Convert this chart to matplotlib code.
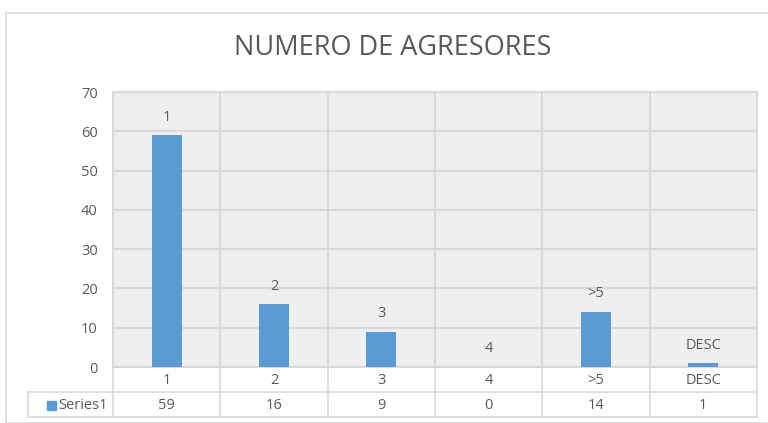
import matplotlib.pyplot as plt
from matplotlib.patches import Rectangle
from matplotlib.lines import Line2D

plt.rcParams['font.family'] = ['Open Sans', 'DejaVu Sans']

categorias = ['1', '2', '3', '4', '>5', 'DESC']
valores = [59, 16, 9, 0, 14, 1]
serie = 'Series1'
titulo = 'NUMERO DE AGRESORES'

azul = '#5b9bd5'
cinza = '#d9d9d9'
texto = '#595959'

W, H = 768, 423
fig = plt.figure(figsize=(W / 100, H / 100), dpi=100)

def fx(px):
    return px / W

def fy(py):
    return 1 - py / H

# moldura do grafico
fig.patches.append(Rectangle((fx(6), fy(423)), fx(780), fy(13) - fy(423),
                             transform=fig.transFigure, fill=False,
                             edgecolor=cinza, linewidth=1.2))

x0, x1, ytop, ybot = 113, 757, 92, 367
ax = fig.add_axes([fx(x0), fy(ybot), fx(x1 - x0), fy(ytop) - fy(ybot)])
ax.set_facecolor('#efefef')
pos = range(len(categorias))
ax.bar(pos, valores, width=0.28, color=azul, zorder=3)
ax.set_xlim(-0.5, len(categorias) - 0.5)
ax.set_ylim(0, 70)
ax.set_yticks(range(0, 71, 10))
ax.set_xticks([i + 0.5 for i in range(len(categorias) - 1)], minor=True)
ax.set_xticks([])
ax.grid(True, axis='y', color=cinza, linewidth=1.5, zorder=1)
ax.grid(True, axis='x', which='minor', color=cinza, linewidth=1.5, zorder=1)
ax.tick_params(axis='y', length=0, labelsize=10.5, labelcolor=texto, pad=11)
ax.tick_params(axis='x', which='both', length=0)
for s in ax.spines.values():
    s.set_color(cinza)
    s.set_linewidth(1.5)

for i, (c, v) in enumerate(zip(categorias, valores)):
    ax.annotate(c, (i, v), xytext=(0, 13), textcoords='offset points',
                ha='center', va='center', fontsize=10.5, color=texto)

fig.text(fx(393), fy(48), titulo, ha='center', va='center', fontsize=19.5, color=texto)

# tabela de dados
larg = (x1 - x0) / len(categorias)
fig.lines.append(Line2D([fx(x0), fx(x1)], [fy(392), fy(392)], color=cinza,
                        linewidth=1.2, transform=fig.transFigure))
fig.lines.append(Line2D([fx(28), fx(x0)], [fy(392), fy(392)], color=cinza,
                        linewidth=1.2, transform=fig.transFigure))
fig.lines.append(Line2D([fx(28), fx(x1)], [fy(417), fy(417)], color=cinza,
                        linewidth=1.2, transform=fig.transFigure))
fig.lines.append(Line2D([fx(28), fx(28)], [fy(392), fy(417)], color=cinza,
                        linewidth=1.2, transform=fig.transFigure))
for k in range(len(categorias) + 1):
    xx = x0 + k * larg
    fig.lines.append(Line2D([fx(xx), fx(xx)], [fy(367), fy(417)], color=cinza,
                            linewidth=1.2, transform=fig.transFigure))
for i, (c, v) in enumerate(zip(categorias, valores)):
    xc = x0 + (i + 0.5) * larg
    fig.text(fx(xc), fy(380), c, ha='center', va='center', fontsize=10.5, color=texto)
    fig.text(fx(xc), fy(405), str(v), ha='center', va='center', fontsize=10.5, color=texto)

fig.patches.append(Rectangle((fx(47), fy(410)), fx(9), fy(401) - fy(410),
                             transform=fig.transFigure, color=azul))
fig.text(fx(58), fy(405), serie, ha='left', va='center', fontsize=10.5, color=texto)

fig.savefig('out.png', dpi=100)
